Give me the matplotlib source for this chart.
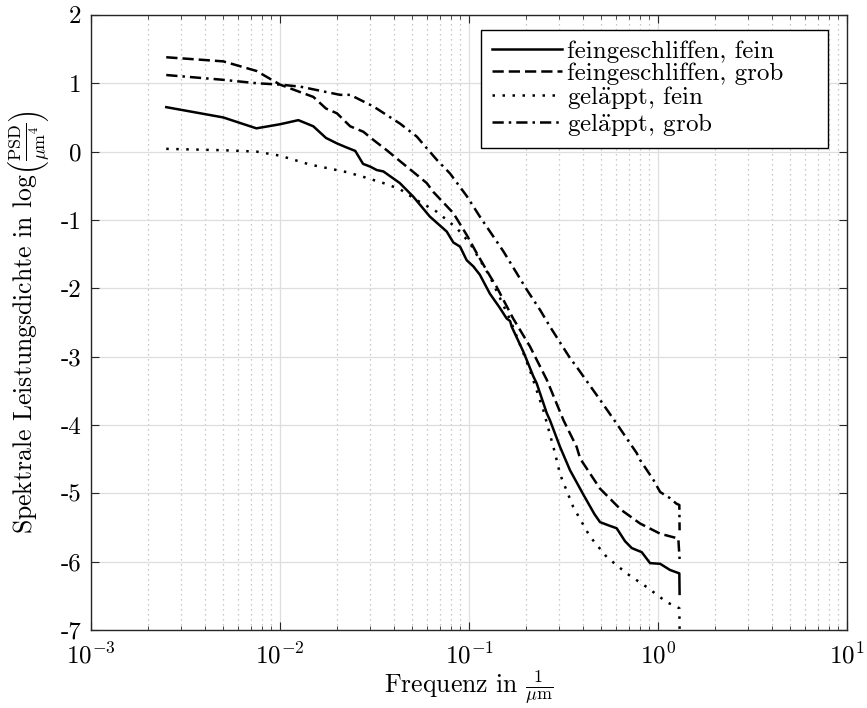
import matplotlib
matplotlib.use("Agg")
import matplotlib.pyplot as plt

plt.rcParams['font.family'] = 'serif'
plt.rcParams['font.serif'] = ['cmr10', 'DejaVu Serif']
plt.rcParams['mathtext.fontset'] = 'cm'
plt.rcParams['axes.unicode_minus'] = False

# feingeschliffen, fein
f_ff = [0.0025, 0.005, 0.0075, 0.01, 0.0125, 0.015, 0.0175, 0.02, 0.0225, 0.025,
        0.0275, 0.03, 0.0325, 0.0352, 0.043, 0.0507, 0.062, 0.0762, 0.0826, 0.0896,
        0.0972, 0.1054, 0.114, 0.129, 0.145, 0.158, 0.165, 0.168, 0.194, 0.219,
        0.228, 0.258, 0.268, 0.303, 0.342, 0.403, 0.46, 0.493, 0.55, 0.604, 0.669,
        0.726, 0.82, 0.907, 1.026, 1.157, 1.296, 1.30]
psd_ff = [0.65, 0.50, 0.34, 0.40, 0.46, 0.37, 0.20, 0.12, 0.06, 0.01,
          -0.18, -0.22, -0.27, -0.29, -0.46, -0.66, -0.95, -1.17, -1.33, -1.39,
          -1.59, -1.68, -1.80, -2.08, -2.28, -2.44, -2.48, -2.56, -2.93, -3.29,
          -3.39, -3.83, -3.93, -4.32, -4.66, -5.02, -5.30, -5.42, -5.47, -5.51, -5.70,
          -5.80, -5.86, -6.02, -6.03, -6.12, -6.17, -6.47]

# feingeschliffen, grob
f_fg = [0.0025, 0.005, 0.0075, 0.01, 0.0125, 0.015, 0.0175, 0.02, 0.0235, 0.0276,
        0.0312, 0.0367, 0.0414, 0.0529, 0.0597, 0.0647, 0.0826, 0.0972, 0.110, 0.129,
        0.140, 0.171, 0.210, 0.258, 0.316, 0.371, 0.387, 0.493, 0.637, 0.803,
        1.026, 1.28, 1.30]
psd_fg = [1.38, 1.32, 1.18, 0.98, 0.88, 0.80, 0.63, 0.56, 0.37, 0.29,
          0.17, 0.02, -0.10, -0.34, -0.46, -0.59, -0.90, -1.22, -1.49, -1.82,
          -1.98, -2.44, -2.85, -3.34, -3.93, -4.32, -4.49, -4.93, -5.24, -5.44,
          -5.59, -5.66, -5.96]

# geläppt, fein
f_gf = [0.0025, 0.005, 0.0075, 0.01, 0.0144, 0.0184, 0.0225, 0.0276, 0.0352, 0.0431,
        0.0529, 0.0675, 0.0861, 0.101, 0.129, 0.165, 0.194, 0.210, 0.247, 0.285,
        0.303, 0.356, 0.436, 0.535, 0.682, 0.871, 1.11, 1.296, 1.30]
psd_gf = [0.04, 0.02, 0.0, -0.06, -0.19, -0.25, -0.30, -0.37, -0.46, -0.55,
          -0.71, -0.88, -1.12, -1.34, -1.83, -2.46, -2.95, -3.20, -3.78, -4.41,
          -4.72, -5.20, -5.63, -5.93, -6.17, -6.37, -6.59, -6.68, -7.0]

# geläppt, grob
f_gg = [0.0025, 0.005, 0.0075, 0.01, 0.0128, 0.0184, 0.0208, 0.0235, 0.0312, 0.0431,
        0.0529, 0.0597, 0.0675, 0.0793, 0.0972, 0.114, 0.152, 0.202, 0.238, 0.268,
        0.342, 0.371, 0.493, 0.604, 0.771, 0.803, 0.944, 1.026, 1.157, 1.25,
        1.296, 1.30]
psd_gg = [1.12, 1.05, 1.00, 0.98, 0.95, 0.86, 0.83, 0.83, 0.66, 0.41,
          0.22, 0.05, -0.12, -0.32, -0.65, -0.95, -1.46, -2.02, -2.32, -2.56,
          -3.02, -3.15, -3.63, -3.98, -4.41, -4.51, -4.80, -4.98, -5.07, -5.15,
          -5.17, -5.54]

labels = ['feingeschliffen, fein', 'feingeschliffen, grob',
          r'gel$\ddot{\mathrm{a}}$ppt, fein', r'gel$\ddot{\mathrm{a}}$ppt, grob']
yticks = [-7, -6, -5, -4, -3, -2, -1, 0, 1, 2]
ytick_labels = ['-7', '-6', '-5', '-4', '-3', '-2', '-1', '0', '1', '2']
xticks = [1e-3, 1e-2, 1e-1, 1e0, 1e1]
xtick_labels = [r'$10^{-3}$', r'$10^{-2}$', r'$10^{-1}$', r'$10^{0}$', r'$10^{1}$']

fs = 18

fig = plt.figure(figsize=(8.67, 7.08), dpi=100)
ax = fig.add_axes([0.105, 0.110, 0.872, 0.869])

lw = 1.8
ax.plot(f_ff, psd_ff, color='black', lw=lw, ls='-', label=labels[0])
ax.plot(f_fg, psd_fg, color='black', lw=lw, ls=(0, (4.5, 2)), label=labels[1])
ax.plot(f_gf, psd_gf, color='black', lw=lw, ls=(0, (1, 3)), label=labels[2])
ax.plot(f_gg, psd_gg, color='black', lw=lw, ls=(0, (4.5, 2, 1, 2)), label=labels[3])

ax.set_xscale('log')
ax.set_xlim(1e-3, 1e1)
ax.set_ylim(-7, 2)
ax.set_xticks(xticks)
ax.set_xticklabels(xtick_labels)
ax.set_yticks(yticks)
ax.set_yticklabels(ytick_labels)

ax.grid(which='major', color='#dedede', lw=0.9, ls='-')
ax.grid(which='minor', axis='x', color='#b8b8b8', lw=0.9, ls=(0, (1, 3)))
ax.set_axisbelow(True)

ax.tick_params(which='both', direction='in', top=True, right=True,
               labelsize=fs, color='#262626')
ax.tick_params(which='major', length=6)
ax.tick_params(which='minor', length=3)
ax.tick_params(axis='x', which='major', pad=9)
ax.tick_params(axis='y', which='major', pad=7)
for s in ax.spines.values():
    s.set_color('#262626')
    s.set_linewidth(1.0)

ax.set_xlabel(r'Frequenz in $\frac{1}{\mu\mathrm{m}}$', fontsize=18.5, labelpad=0)
ax.set_ylabel(r'Spektrale Leistungsdichte in log$\left(\frac{\mathrm{PSD}}{\mu\mathrm{m}^4}\right)$',
              fontsize=18.5, labelpad=5)

# legend box stretched to the width of the original one (extra room on the right)
leg = ax.legend(loc='upper left', bbox_to_anchor=(0.516, 0.78, 0.459, 0.196),
                mode='expand', fontsize=fs, fancybox=False, framealpha=1,
                edgecolor='black', handlelength=2.8, borderpad=0.42,
                labelspacing=-0.02, handletextpad=0.2, borderaxespad=0.0)
leg.get_frame().set_linewidth(1.0)

fig.savefig('out.png', dpi=100)
